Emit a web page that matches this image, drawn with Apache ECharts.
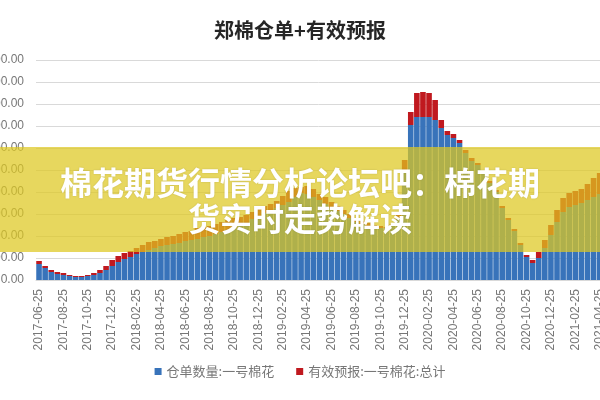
<!DOCTYPE html>
<html>
<head>
<meta charset="utf-8">
<script src="https://cdn.jsdelivr.net/npm/echarts@6/dist/echarts.min.js"></script>
<style>
html,body{margin:0;padding:0;background:#fff;}
#c{width:600px;height:400px;}
</style>
</head>
<body>
<div id="c"></div>
<script>
var titleText = '郑棉仓单+有效预报';
var bannerText = '棉花期货行情分析论坛吧：棉花期\n货实时走势解读';
var seriesNames = ['仓单数量:一号棉花', '有效预报:一号棉花:总计'];

var dates = [
'2017-06-25','2017-07-10','2017-07-25','2017-08-10','2017-08-25','2017-09-10','2017-09-25','2017-10-10',
'2017-10-25','2017-11-10','2017-11-25','2017-12-10','2017-12-25','2018-01-10','2018-01-25','2018-02-10',
'2018-02-25','2018-03-10','2018-03-25','2018-04-10','2018-04-25','2018-05-10','2018-05-25','2018-06-10',
'2018-06-25','2018-07-10','2018-07-25','2018-08-10','2018-08-25','2018-09-10','2018-09-25','2018-10-10',
'2018-10-25','2018-11-10','2018-11-25','2018-12-10','2018-12-25','2019-01-10','2019-01-25','2019-02-10',
'2019-02-25','2019-03-10','2019-03-25','2019-04-10','2019-04-25','2019-05-10','2019-05-25','2019-06-10',
'2019-06-25','2019-07-10','2019-07-25','2019-08-10','2019-08-25','2019-09-10','2019-09-25','2019-10-10',
'2019-10-25','2019-11-10','2019-11-25','2019-12-10','2019-12-25','2020-01-10','2020-01-25','2020-02-10',
'2020-02-25','2020-03-10','2020-03-25','2020-04-10','2020-04-25','2020-05-10','2020-05-25','2020-06-10',
'2020-06-25','2020-07-10','2020-07-25','2020-08-10','2020-08-25','2020-09-10','2020-09-25','2020-10-10',
'2020-10-25','2020-11-10','2020-11-25','2020-12-10','2020-12-25','2021-01-10','2021-01-25','2021-02-10',
'2021-02-25','2021-03-10','2021-03-25','2021-04-10','2021-04-25','2021-05-10','2021-05-25','2021-06-10'
];

var receipts = [
3636,2727,1818,1364,1136,909,682,682,909,1136,1591,2273,3182,4091,4773,5227,
5909,6364,6818,7273,7727,7955,8182,8409,8864,9091,9318,9773,10000,10455,10909,11364,
11818,12273,12955,13864,14545,15227,15909,16364,17045,17727,18864,19773,19545,18864,18182,17273,
16364,15682,15000,14091,13182,12727,12273,12045,11818,11818,12273,14091,24545,35227,37045,37045,
37045,36364,34545,32955,32273,31136,28864,27045,26136,24318,22045,20000,16364,13636,11136,7955,
5227,3864,5000,7273,10227,13182,15455,16591,17045,17500,18182,18864,19545,20000,20455,20909
];

var forecasts = [
682,455,455,455,455,227,227,227,227,455,682,909,1364,1364,1364,1364,
1364,1591,1818,1591,1591,1818,1818,2045,2045,2045,2500,2273,2273,2273,2273,2273,
2273,2045,1818,1591,1591,1591,1364,1591,2045,2500,2045,1364,1818,1818,1364,1591,
1364,1136,909,909,909,682,682,455,455,227,455,1364,2727,2955,5455,5682,
5455,4545,1818,909,909,682,682,682,455,455,455,455,455,455,455,455,
455,682,1364,1818,2273,2727,3182,3182,3182,3182,3636,4318,4773,5000,5000,5000
];

var yMin = 0, yMax = 50000, yStep = 5000;

var chart = echarts.init(document.getElementById('c'), null, {renderer: 'canvas'});
var cjk = '"Noto Sans CJK SC", "Noto Sans", sans-serif';
chart.setOption({
  animation: false,
  backgroundColor: '#ffffff',
  title: {
    text: titleText, left: 'center', top: 15,
    textStyle: {fontSize: 20, fontWeight: 'bold', color: '#262626', fontFamily: cjk}
  },
  legend: {
    bottom: 17, left: 'center',
    itemWidth: 7, itemHeight: 7, itemGap: 22, icon: 'rect',
    textStyle: {fontSize: 13, color: '#777', fontFamily: cjk},
    data: seriesNames
  },
  grid: {left: 36, top: 60, width: 585, height: 220, containLabel: false, outerBoundsMode: 'none'},
  xAxis: {
    type: 'category', data: dates, boundaryGap: true,
    axisLine: {lineStyle: {color: '#d9d9d9'}},
    axisTick: {show: false},
    axisLabel: {interval: 3, rotate: 90, fontSize: 12, color: '#777', margin: 9, hideOverlap: false,
      fontFamily: '"Liberation Sans", sans-serif'}
  },
  yAxis: {
    type: 'value', min: yMin, max: yMax, interval: yStep,
    axisLine: {show: false}, axisTick: {show: false},
    splitLine: {lineStyle: {color: '#d9d9d9'}},
    axisLabel: {fontSize: 12, color: '#777', margin: 12, fontFamily: '"Liberation Sans", sans-serif',
      formatter: function (v) { return v.toFixed(2); }}
  },
  series: [
    {name: seriesNames[0], type: 'bar', stack: 'all', data: receipts, barCategoryGap: '8%',
     itemStyle: {color: '#3873ba'}},
    {name: seriesNames[1], type: 'bar', stack: 'all', data: forecasts, barCategoryGap: '8%',
     itemStyle: {color: '#c0191f'}}
  ],
  graphic: [
    {type: 'rect', z: 100, shape: {x: 0, y: 147, width: 600, height: 105},
     style: {fill: 'rgba(222,200,32,0.72)'}},
    {type: 'text', z: 101, x: 300, y: 165,
     style: {text: bannerText, fill: '#ffffff', font: 'bold 32px "Noto Sans CJK SC"', textAlign: 'center',
             lineHeight: 36, textShadowColor: 'rgba(0,0,0,0.15)', textShadowBlur: 2}}
  ]
});
</script>
</body>
</html>
